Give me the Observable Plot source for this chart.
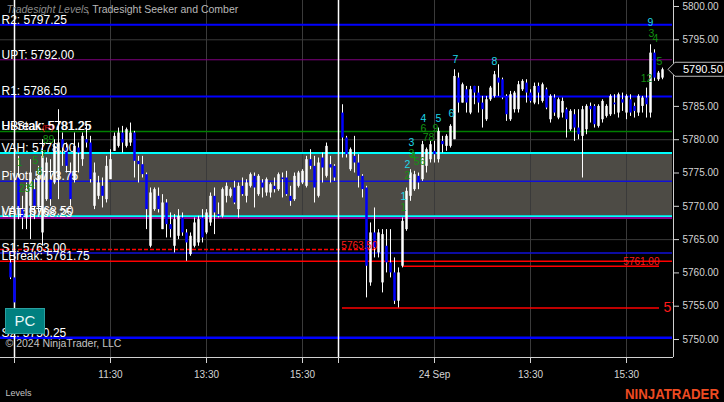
<!DOCTYPE html>
<html><head><meta charset="utf-8">
<script src="https://cdn.jsdelivr.net/npm/d3@7"></script>
<script src="https://cdn.jsdelivr.net/npm/@observablehq/plot@0.6"></script>
<style>
html,body{margin:0;padding:0;background:#000;}
#wrap{width:724px;height:402px;overflow:hidden;background:#000;}
</style></head><body><div id="wrap"></div>
<script>
// ---- Bars, session 1 (first bar slot 2) ----
const session1Start = 2;
const open1 = [5761.5,5759.25,5774.25,5769.5,5768.25,5770,5772.5,5770,5766,5771,
 5774,5773.5,5774,5780,5778.75,5775,5774,5778.75,5777,5780,
 5779.5,5770,5771.5,5773,5771,5774,5778.25,5779,5781,5779,
 5779.5,5781,5776.75,5776.25,5774.75,5764,5769.5,5771.5,5766.5,5770.5,
 5767.25,5764,5765.5,5768.25,5766,5762.75,5764,5764.5,5768.25,5766,
 5767.5,5771.5,5768.75,5768.5,5771.5,5771.5,5772.75,5769.5,5773,5771.5,
 5773,5774.5,5771.75,5773.5,5772,5772,5773,5772.5,5774.25,5774.25,
 5771.5,5771,5773,5773.5,5773,5777,5776,5771.5,5777.25,5774.5,
 5776.25,5776];
const high1 = [5762,5759.5,5777.5,5771.5,5773.5,5777,5774,5776,5780,5777.25,
 5777,5780,5784.5,5781,5779.5,5776.5,5781,5779.5,5781,5782,
 5780.5,5776.5,5774.5,5774.25,5777.5,5778.5,5781,5781.75,5782,5781.75,
 5782.5,5781.25,5777.5,5777.5,5775,5772.75,5772.75,5772.75,5771.75,5771,
 5769,5768.75,5769.5,5769,5766.5,5766,5768.25,5768.5,5769.5,5769.5,
 5772,5772.75,5770.5,5772.75,5773.5,5772.75,5773.75,5773.5,5774.25,5774,
 5775,5775,5774.75,5774,5774.25,5773.5,5774.25,5775,5775,5775.25,
 5773,5775,5775.25,5775.5,5777.5,5778.5,5777.5,5777.25,5778,5779.5,
 5777.5,5776.25];
const low1 = [5759,5754.75,5768,5766.5,5766.5,5765,5768,5769,5764,5770.75,
 5770,5773.25,5771,5776,5775,5770,5773.5,5775,5776,5778.75,
 5773.5,5769.5,5771,5769.75,5770.5,5774,5778.25,5778.75,5778,5778.75,
 5779,5774.25,5773.5,5774.25,5766.5,5763.75,5769.25,5769,5766.5,5765.25,
 5765.25,5763,5765,5765.5,5761.75,5762.5,5763.75,5764,5764.5,5765.75,
 5767,5765.75,5768.25,5768.25,5770.5,5771.25,5770.25,5768.25,5771.5,5770.5,
 5772.75,5769.75,5771.5,5771.25,5771.5,5771.25,5772,5772.25,5771.25,5771.5,
 5770,5770.75,5772.75,5773.25,5772.75,5775.5,5770.5,5771.25,5773.5,5774.25,
 5773.5,5773.75];
const close1 = [5759.25,5755.5,5769.5,5768.25,5772.5,5775,5770,5774.5,5777.5,5776.5,
 5771,5779,5779.5,5778.75,5776,5771,5779,5778,5780.5,5779.5,
 5774,5775,5773.5,5771.5,5776,5777,5780.5,5781,5779.5,5781.5,
 5781,5776.75,5776.25,5774.75,5769.5,5772,5772.5,5769.5,5770.5,5767.25,
 5766.5,5768,5768.5,5766,5764.5,5765.5,5767.5,5768,5765.25,5769,
 5771.5,5769,5768.5,5772.5,5773,5772.5,5770.5,5773,5771.75,5773.5,
 5774.75,5772.75,5774.5,5772.75,5774,5773.25,5772.5,5774.75,5774,5771.75,
 5770.75,5774.5,5775,5775.25,5777,5776,5772.75,5776.5,5775.75,5779,
 5775.75,5774.25];

// ---- Bars, session 2 (24 Sep, first bar slot 85) ----
const session2Start = 85;
const open2 = [5784,5780.25,5775.5,5777.5,5776.5,5774.5,5772.75,5758.5,5766,5763,
 5758.5,5764,5761.5,5760,5755.75,5761,5766.5,5771.5,5772.5,5774.5,
 5774,5776,5777,5778.25,5777,5779.75,5779,5779,5780,5789.25,
 5785.5,5787.5,5784,5788,5787,5785.5,5783,5786,5786.5,5789.25,
 5789,5786.5,5783,5784.5,5784.5,5787.5,5788.5,5787,5785.5,5788,
 5785.75,5787.5,5783,5786.25,5783.25,5784,5784.5,5781.5,5783.75,5781.75,
 5780.5,5781.5,5785,5785,5782,5783,5783.5,5783.75,5785.5,5784,
 5786,5784,5786,5785,5784,5785,5786.25,5784,5793,5789,
 5789.25];
const high2 = [5785.25,5780.5,5778.75,5780.5,5777.75,5774.75,5773,5767.5,5769.75,5766.5,
 5766.5,5766.5,5766.5,5762.25,5760.75,5768.25,5772.75,5775.5,5775.25,5775,
 5779.75,5778.75,5779.75,5779.75,5781.75,5780.5,5780.75,5782.25,5790.5,5790,
 5788.5,5788,5788,5788,5788,5786.5,5786.5,5788,5790.25,5791.25,
 5789.25,5786.75,5787.25,5787.25,5788.75,5789,5789,5787.5,5788.5,5788.5,
 5788.5,5787.75,5786.75,5786.75,5786.25,5786.25,5784.75,5784.5,5784.5,5784.5,
 5785,5785.25,5785.5,5785.25,5785.25,5786,5785.25,5786.75,5786.75,5787,
 5787,5786.75,5786.75,5785.5,5786.75,5786.5,5787.75,5794.25,5793.5,5790.25,
 5790.75];
const low2 = [5777.25,5777.25,5775.25,5775,5772.75,5771.25,5756.25,5758,5762.25,5762.25,
 5757,5760,5759.25,5755.25,5754.75,5760.75,5766.25,5770.75,5772.25,5772.5,
 5773.75,5775,5776.5,5776.5,5776.5,5778,5778.25,5778.75,5780,5784,
 5785.5,5784,5783.75,5785.25,5784,5781.75,5782.75,5785.75,5786.25,5786.5,
 5786,5782.75,5782.75,5784,5784,5787.25,5785.5,5785.5,5785.25,5785.25,
 5785.5,5784.5,5782.5,5783.5,5783,5783.25,5780.25,5781.25,5779.75,5780,
 5774.25,5780.75,5782.5,5781.75,5781.75,5782.5,5783.25,5783.5,5783.75,5783.25,
 5784.25,5783,5783.5,5783.25,5783.5,5784,5783.25,5783.25,5788.75,5788.75,
 5789];
const close2 = [5780.25,5777.75,5778.5,5776.5,5774.5,5772.5,5761,5766,5763.75,5766,
 5765.75,5761.5,5760,5755.75,5760,5767.75,5772.25,5775,5774.75,5773.5,
 5779.25,5778.5,5779.25,5777.75,5781.25,5779.25,5780.5,5782,5789.5,5785.5,
 5788.25,5785.5,5787.5,5787,5785.5,5784.5,5786,5787.75,5789.75,5788.5,
 5786.25,5783.75,5786.75,5787,5788.25,5788.75,5787,5785.75,5788,5787,
 5788.25,5784.75,5786.5,5784,5786,5785.75,5783,5784.25,5781.75,5780.75,
 5784.5,5785,5784.5,5782.25,5785,5785.75,5785,5786.5,5785.25,5786.75,
 5785.5,5786.5,5784,5784.25,5786.5,5786.25,5785.25,5793,5789.25,5790,
 5790.5];

// ---- Tradesight levels ----
const levelNames  = ["R2","UPT","R1","UBreak","Hi-Stak","VAH","Pivot","VAL","LPT","S1","LBreak","S2"];
const levelValues = [5797.25,5792.00,5786.50,5781.25,5781.25,5778.00,5773.75,5768.50,5768.25,5763.00,5761.75,5750.25];

// ---- Comber levels (price, from bar slot, to bar slot) ----
const comberPrices = [5763.50, 5761.00, 5754.75];
const comberFrom   = [-0.5, 100.25, 85];
const comberTo     = [93.75, 164.25, 164.25];

// ---- Seeker counts ----
const setupText  = ["1","2","3","4","5","6","7","8","9"];
const setupSlot  = [100.25,101.25,102.25,105.25,109,112.25,113.25,123,162];
const setupPrice = [5771.5,5776.3,5779.6,5783.2,5783.2,5783.9,5792.0,5791.75,5797.6];
const countText  = ["1","23","4","5","6","7","89","1","2","3","4","56","6","78","9","12","3","4","5"];
const countSlot  = [4.25,5.5,7.25,8.25,9.25,10.25,11.5,100.25,101.25,102.25,102.75,104.25,105.25,106.5,108.25,161,162.25,163.25,164.25];
const countPrice = [5776.6,5772.7,5773.1,5776.9,5775.2,5777.8,5780.0,5769.8,5774.6,5777.9,5777.5,5776.7,5781.7,5780.3,5781.7,5789.2,5795.9,5795.2,5791.7];

// ---- Axes ----
const yTicks = [5750,5755,5760,5765,5770,5775,5780,5785,5790,5795,5800];
const gridPrices = [5795,5780,5765];
const xTickSlots  = [3,27,51,75,84,108,132,156];
const xTickLabels = ["","11:30","13:30","15:30","","24 Sep","13:30","15:30"];
const sessionBreaks = [3,84];
const gridSlots = [27,51,75,108,132,156];
const lastPrice = 5790.50;

// ---- build ----
const bars = [
  ...open1.map((o,i)=>({slot: session1Start+i, open:o, high:high1[i], low:low1[i], close:close1[i]})),
  ...open2.map((o,i)=>({slot: session2Start+i, open:o, high:high2[i], low:low2[i], close:close2[i]}))
];
const levels = levelNames.map((n,i)=>({name:n, value:levelValues[i], label:`${n}: ${levelValues[i].toFixed(2)}`}));
const levelStyle = {
  R2:{stroke:"#0000ff",w:2}, UPT:{stroke:"#800080",w:1}, R1:{stroke:"#0000ff",w:2},
  UBreak:{stroke:"#008000",w:1.5}, VAH:{stroke:"#00ffff",w:2}, Pivot:{stroke:"#1010d8",w:1.5},
  VAL:{stroke:"#00ffff",w:2}, LPT:{stroke:"#8b008b",w:2}, S1:{stroke:"#1010d8",w:1.5},
  LBreak:{stroke:"#ff0000",w:1.5}, S2:{stroke:"#0000ff",w:2.5}
};
const comber = comberPrices.map((p,i)=>({price:p, from:comberFrom[i], to:comberTo[i], label:p.toFixed(2)}));
const setups = setupText.map((t,i)=>({t, slot:setupSlot[i], price:setupPrice[i]}));
const counts = countText.map((t,i)=>({t, slot:countSlot[i], price:countPrice[i]}));

const xDomain = [-0.5, 167.75];
const yDomain = [5747.3, 5800.9];
const lineEnd = 167.5;

const levelMarks = levels.filter(d => levelStyle[d.name]).map(d =>
  Plot.ruleY([d], {y:"value", x1: () => xDomain[0], x2: () => lineEnd, stroke: levelStyle[d.name].stroke, strokeWidth: levelStyle[d.name].w}));

const priceMarker = (index, scales, values, dim) => {
  const y = scales.y(lastPrice);
  const x0 = dim.width - dim.marginRight;
  const g = d3.create("svg:g");
  g.append("path").attr("d", `M${x0-5},${y} L${x0+2},${y-7} L${x0+60},${y-7} L${x0+60},${y+7} L${x0+2},${y+7} Z`)
    .attr("fill","#000").attr("stroke","#b8b8b8");
  g.append("text").attr("x", x0+10).attr("y", y).attr("dy","0.35em").attr("fill","#fff")
    .attr("text-anchor","start").attr("font-size", 11).text(lastPrice.toFixed(2));
  return g.node();
};
const pcButton = () => {
  const g = d3.create("svg:g");
  g.append("rect").attr("x",5.5).attr("y",308.5).attr("width",39).attr("height",25).attr("fill","#008080").attr("stroke","#2aa0a0");
  g.append("text").attr("x",25).attr("y",321).attr("dy","0.35em").attr("text-anchor","middle").attr("fill","#e8f8f8").attr("font-size",15).text("PC");
  return g.node();
};
const logo = () => {
  const g = d3.create("svg:g");
  g.append("text").attr("x",625).attr("y",399).attr("fill","#ee4b22").attr("font-size",14).attr("font-weight","bold")
    .attr("text-anchor","start").attr("textLength",94).attr("lengthAdjust","spacingAndGlyphs").text("NINJATRADER");
  return g.node();
};

const chart = Plot.plot({
  width: 724, height: 402,
  marginTop: 0, marginRight: 51, marginBottom: 45, marginLeft: 0,
  style: {background:"#000", color:"#d4d4d4", fontSize:"10px", fontFamily:"'Liberation Sans', Arial, sans-serif"},
  x: {domain: xDomain, ticks: xTickSlots, tickFormat: d => xTickLabels[xTickSlots.indexOf(d)], tickSize: 6, tickPadding: 7, label: null},
  y: {domain: yDomain, axis: "right", ticks: yTicks, tickFormat: d => d.toFixed(2), tickSize: 5, tickPadding: 4, label: null},
  marks: [
    Plot.rect([0], {x1: () => xDomain[0], x2: () => lineEnd, y1: () => levelValues[7], y2: () => levelValues[5], fill: "#4d4b45"}),
    Plot.ruleY(gridPrices, {stroke: "#3a3a3a"}),
    Plot.ruleX(gridSlots, {stroke: "#3a3a3a"}),
    ...levelMarks,
    Plot.ruleY(comber.slice(0,1), {y:"price", x1:"from", x2:"to", stroke:"#ff0000", strokeWidth:1.5, strokeDasharray:"4,2"}),
    Plot.ruleY(comber.slice(1), {y:"price", x1:"from", x2:"to", stroke:"#ff0000", strokeWidth:1.5}),
    Plot.ruleX(sessionBreaks, {stroke: "#ffffff", strokeWidth: 1.5}),
    Plot.ruleX(bars, {x:"slot", y1:"low", y2:"high", stroke:"#ffffff", strokeWidth:1}),
    Plot.ruleX(bars.filter(d => d.close >= d.open), {x:"slot", y1:"open", y2:"close", stroke:"#ffffff", strokeWidth:2.5}),
    Plot.ruleX(bars.filter(d => d.close < d.open), {x:"slot", y1:"open", y2:"close", stroke:"#0000ff", strokeWidth:2.5}),
    Plot.text(levels, {y:"value", text:"label", frameAnchor:"left", textAnchor:"start", lineAnchor:"bottom", dx:1, dy:-1, fill:"#ffffff", fontSize:12}),
    Plot.text(comber.slice(0,2), {x:"to", y:"price", text:"label", textAnchor:"end", lineAnchor:"bottom", dy:-1, fill:"#ff1a1a", fontSize:10}),
    Plot.text(comber.slice(2), {x: d => 165.25, y:"price", text:"label", textAnchor:"start", fill:"#ff1a1a", fontSize:14, clip:true}),
    Plot.text(setups, {x:"slot", y:"price", text:"t", fill:"#1ed8e8", fontSize:10.5}),
    Plot.text(counts, {x:"slot", y:"price", text:"t", fill:"#129212", fontSize:10.5}),
    Plot.text(["(R)"], {x: () => 11.25, y: () => 5781.8, text: d => d, fill:"#e01010", fontSize:8}),
    Plot.ruleY([yDomain[0]], {stroke:"#d0d0d0"}),
    Plot.ruleX([xDomain[1]], {stroke:"#d0d0d0"}),
    Plot.text(["Tradesight Levels"], {frameAnchor:"top-left", textAnchor:"start", lineAnchor:"top", dx:6, dy:5, fill:"#8a8a8a", fontStyle:"italic", fontSize:10.5}),
    Plot.text([", Tradesight Seeker and Comber"], {frameAnchor:"top-left", textAnchor:"start", lineAnchor:"top", dx:86, dy:5, fill:"#b8b8b8", fontSize:10.5}),
    Plot.text(["© 2024 NinjaTrader, LLC"], {frameAnchor:"bottom-left", textAnchor:"start", lineAnchor:"middle", dx:5, dy:-14, fill:"#c4c4c4", fontSize:10.5}),
    Plot.text(["Levels"], {frameAnchor:"bottom-left", textAnchor:"start", lineAnchor:"middle", dx:5, dy:36, fill:"#c4c4c4", fontSize:9}),
    pcButton,
    priceMarker,
    logo
  ]
});
document.getElementById("wrap").appendChild(chart);
</script></body></html>
